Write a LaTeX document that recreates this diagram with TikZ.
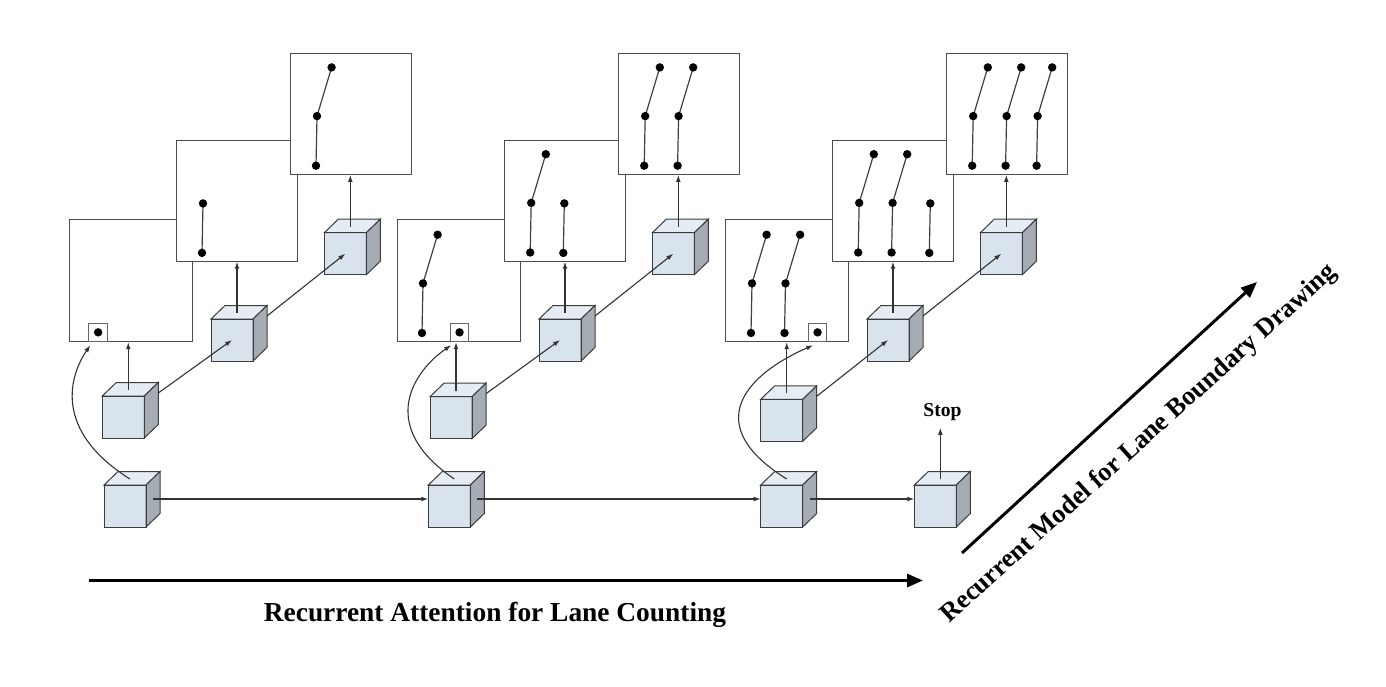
\documentclass[tikz,border=0pt]{standalone}
\usepackage{fontspec}
\setmainfont{Liberation Serif}
\usetikzlibrary{calc,arrows.meta}
\definecolor{cubefront}{RGB}{217,227,238}
\definecolor{cubeside}{RGB}{166,172,179}
\definecolor{cubetop}{RGB}{229,236,244}
\definecolor{edgecol}{RGB}{60,60,60}
\tikzset{
  pics/cube/.style={code={
    \fill[cubefront] (0,0) rectangle (42,42);
    \filldraw[cubeedge, fill=cubetop] (0,0) -- (14,-13.5) -- (56,-13.5) -- (42,0) -- cycle;
    \filldraw[cubeedge, fill=cubeside] (42,0) -- (56,-13.5) -- (56,28.5) -- (42,42) -- cycle;
    \draw[cubeedge] (0,0) rectangle (42,42);
    \coordinate (-c) at (21,21);
    \coordinate (-t) at (26,-6);
    \coordinate (-x) at (56,-3);
    \coordinate (-w) at (0,14);
    \coordinate (-e) at (49,14);
  }}
}
\newcommand\fulllane[2]{%
  \draw[laneline] ($(#1.south west)+(#2+14.6,-107.5)$) coordinate (lt)
     -- ($(#1.south west)+(#2,-58.8)$) coordinate (lm)
     -- ($(#1.south west)+(#2-1,-9.2)$) coordinate (lb);
  \fill[black] (lt) circle (2.1pt) (lm) circle (2.1pt) (lb) circle (2.1pt);}
\newcommand\shortlane[2]{%
  \draw[laneline] ($(#1.south west)+(#2+0.5,-58.3)$) coordinate (lt)
     -- ($(#1.south west)+(#2-0.5,-8.8)$) coordinate (lb);
  \fill[black] (lt) circle (2.1pt) (lb) circle (2.1pt);}
\begin{document}
\begin{tikzpicture}[x=0.5pt,y=-0.5pt,
  panelA/.style={draw=black!70,line width=0.6pt,fill=white,minimum width=61.5pt,minimum height=61pt,inner sep=0pt,anchor=north west},
  panelB/.style={draw=black!70,line width=0.6pt,fill=white,minimum width=60.5pt,minimum height=60.5pt,inner sep=0pt,anchor=north west},
  sbox/.style={draw=black!60,line width=0.5pt,fill=white,minimum size=9.35pt,inner sep=0pt,anchor=south west},
  thinarrow/.style={draw=black!80,line width=0.55pt,-{Latex[length=3.5pt,width=2.4pt]}},
  bigarrow/.style={line width=1.5pt,-{Triangle[length=8pt,width=6.5pt]}},
  laneline/.style={draw=black!75,line width=0.6pt},
  cubeedge/.style={draw=edgecol,line width=0.5pt},
  lbl/.style={font=\bfseries\fontsize{13.7}{16}\selectfont, inner sep=0pt}
]
\useasboundingbox (0,0) rectangle (1386,686);

% panels
\foreach \i/\o in {1/0,2/328,3/656}{
  \node[panelA] (A\i) at (69+\o,219) {};
  \node[panelB] (B\i) at (176+\o,139.5) {};
  \node[panelB] (C\i) at (290+\o,52.7) {};
}

% lanes
\shortlane{B1}{26.5}
\fulllane{C1}{27}

\fulllane{A2}{26}
\fulllane{B2}{27.2}
\shortlane{B2}{59.8}
\fulllane{C2}{27.2}
\fulllane{C2}{60.6}

\fulllane{A3}{27}
\fulllane{A3}{60.5}
\fulllane{B3}{27.2}
\fulllane{B3}{60.6}
\shortlane{B3}{97.8}
\fulllane{C3}{27.2}
\fulllane{C3}{60.6}
\fulllane{C3}{91.6}

% small boxes
\node[sbox] (s1) at ($(A1.south west)+(19.3,0)$) {};
\node[sbox] (s2) at ($(A2.south west)+(52.7,0)$) {};
\node[sbox] (s3) at ($(A3.south west)+(82.7,0)$) {};
\foreach \i in {1,2,3}{\fill[black] (s\i.center) circle (2.1pt);}

% cubes
\foreach \i/\o in {1/0,2/328,3/656}{
  \pic (u\i) at (211+\o,319) {cube};
  \pic (v\i) at (324.3+\o,232.7) {cube};
}
\pic (m1) at (102.3,396) {cube};
\pic (m2) at (430,396.7) {cube};
\pic (m3) at (760.7,399.3) {cube};
\pic (b1) at (104,485) {cube};
\pic (b2) at (428.3,485) {cube};
\pic (b3) at (760.7,485) {cube};
\pic (b4) at (914.3,485) {cube};

% connectors
\foreach \i in {1,2,3}{
  \draw[thinarrow] (m\i-x) -- (u\i-c);
  \draw[thinarrow] (u\i-x) -- (v\i-c);
  \draw[thinarrow] (m\i-t) -- (m\i-t |- A\i.south);
  \draw[thinarrow] (u\i-t) -- (u\i-t |- B\i.south);
  \draw[thinarrow] (v\i-t) -- (v\i-t |- C\i.south);
}
\draw[thinarrow] (b1-t) .. controls (52,430) and (70,375) .. ($(s1.south west)+(2,3)$);
\draw[thinarrow] (b2-t) .. controls (375,425) and (415,370) .. ($(s2.south west)+(1.5,3)$);
\draw[thinarrow] (b3-t) .. controls (700,425) and (745,375) .. ($(s3.south west)+(5.5,3)$);

\draw[thinarrow] (b1-e) -- (b2-w);
\draw[thinarrow] (b2-e) -- (b3-w);
\draw[thinarrow] (b3-e) -- (b4-w);

\node[lbl, font=\bfseries\fontsize{9.8}{11}\selectfont, anchor=base, inner sep=3.6pt] (stop) at (942.5,416) {Stop};
\draw[thinarrow] (b4-t) -- (b4-t |- stop.south);

% big arrows and labels
\coordinate (h0) at (89,580.5);
\coordinate (h1) at (923,580.5);
\draw[bigarrow] (h0) -- (h1);
\coordinate (d0) at (962,553);
\coordinate (d1) at (1257,282);
\draw[bigarrow] (d0) -- (d1);
\node[lbl, anchor=base] (t1) at (495,621) {Recurrent Attention for Lane Counting};
\node[lbl, font=\bfseries\fontsize{13.2}{16}\selectfont, rotate=42] (t2) at (1139,444) {Recurrent Model for Lane Boundary Drawing};
\end{tikzpicture}
\end{document}
